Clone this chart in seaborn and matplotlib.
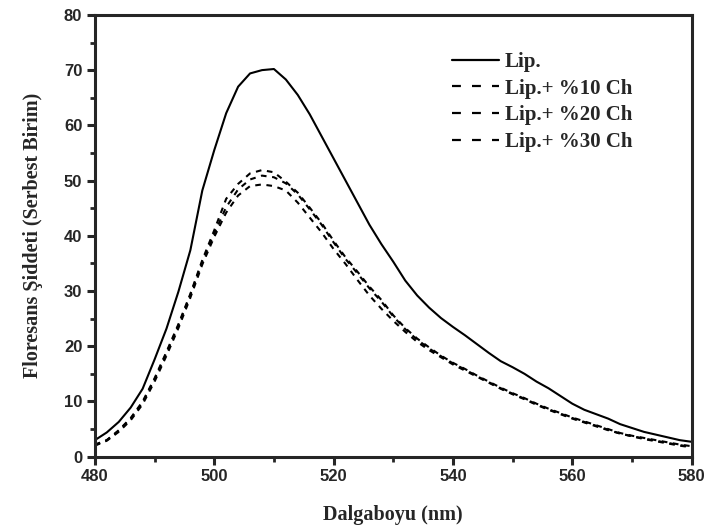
import numpy as np
import pandas as pd
import matplotlib
matplotlib.use("Agg")
import matplotlib.pyplot as plt
from matplotlib.ticker import MultipleLocator
import seaborn as sns

# wavelength grid (nm)
wavelength = list(range(480, 582, 2))

lip = [3.0, 4.4, 6.3, 8.9, 12.3, 17.6, 23.2, 29.9, 37.4, 48.2,
       55.5, 62.2, 67.0, 69.4, 70.0, 70.2, 68.3, 65.5, 62.0, 58.0,
       54.0, 50.0, 46.0, 42.0, 38.5, 35.3, 31.9, 29.2, 27.0, 25.1,
       23.5, 22.0, 20.4, 18.8, 17.3, 16.2, 15.0, 13.6, 12.4, 11.0,
       9.6, 8.5, 7.7, 6.9, 5.9, 5.2, 4.5, 4.0, 3.5, 3.0, 2.7]
lip_ch10 = [2.2, 3.0, 4.8, 7.0, 10.0, 14.2, 19.0, 24.0, 29.5, 35.6,
            41.0, 46.7, 49.4, 51.3, 51.9, 51.5, 49.8, 47.8, 45.1, 42.3,
            39.1, 36.1, 33.5, 30.8, 28.4, 25.6, 23.3, 21.4, 19.8, 18.3,
            17.0, 15.9, 14.7, 13.6, 12.5, 11.5, 10.6, 9.6, 8.7, 7.9,
            7.1, 6.4, 5.7, 5.0, 4.3, 3.8, 3.4, 3.0, 2.6, 2.2, 1.9]
lip_ch20 = [2.1, 3.0, 4.7, 6.9, 9.8, 14.0, 18.8, 23.8, 29.3, 35.3,
            40.4, 45.2, 48.4, 50.2, 50.9, 50.6, 49.5, 47.5, 44.8, 42.0,
            38.8, 35.8, 33.2, 30.5, 28.1, 25.4, 23.1, 21.2, 19.6, 18.2,
            16.9, 15.8, 14.6, 13.5, 12.4, 11.4, 10.5, 9.5, 8.6, 7.8,
            7.0, 6.3, 5.6, 4.9, 4.2, 3.7, 3.3, 2.9, 2.5, 2.1, 1.8]
lip_ch30 = [2.0, 2.9, 4.5, 6.6, 9.5, 13.6, 18.3, 23.3, 28.8, 34.8,
            39.8, 44.2, 47.3, 49.0, 49.3, 49.0, 48.2, 46.0, 43.3, 40.6,
            37.6, 34.9, 32.0, 29.2, 26.8, 24.6, 22.6, 20.8, 19.3, 18.0,
            16.7, 15.6, 14.5, 13.4, 12.3, 11.3, 10.4, 9.4, 8.5, 7.7,
            6.9, 6.2, 5.5, 4.8, 4.2, 3.7, 3.2, 2.8, 2.4, 2.0, 1.7]

series_names = ["Lip.", "Lip.+ %10 Ch", "Lip.+ %20 Ch", "Lip.+ %30 Ch"]
series_values = [lip, lip_ch10, lip_ch20, lip_ch30]

df = pd.concat([pd.DataFrame({"wl": wavelength, "val": v, "sample": n})
                for n, v in zip(series_names, series_values)])

sns.set_style("ticks")
plt.rcParams["font.family"] = ["Liberation Sans", "DejaVu Sans"]

W, H, DPI = 708, 532, 100
fig = plt.figure(figsize=(W / DPI, H / DPI), dpi=DPI)
ax = fig.add_axes([0.134, 0.1415, 0.843, 0.8305])

dash_map = {series_names[0]: "", series_names[1]: (2.7, 2.7),
            series_names[2]: (2.7, 2.7), series_names[3]: (2.7, 2.7)}
sns.lineplot(data=df, x="wl", y="val", hue="sample", style="sample",
             palette=["black"] * 4, dashes=dash_map, linewidth=1.5, ax=ax)

ax.set_xlim(480, 580)
ax.set_ylim(0, 80)
ax.xaxis.set_major_locator(MultipleLocator(20))
ax.xaxis.set_minor_locator(MultipleLocator(10))
ax.yaxis.set_major_locator(MultipleLocator(10))
ax.yaxis.set_minor_locator(MultipleLocator(5))
ax.tick_params(which="major", direction="out", length=6, width=2.2,
               labelsize=12, pad=3)
ax.tick_params(which="minor", direction="out", length=3.5, width=2.0)
for lab in ax.get_xticklabels() + ax.get_yticklabels():
    lab.set_fontweight("bold")
for sp in ax.spines.values():
    sp.set_linewidth(2.2)
    sp.set_visible(True)

ax.set_xlabel("Dalgaboyu (nm)", family="Liberation Serif", fontweight="bold",
              fontsize=14.5, labelpad=15)
ax.set_ylabel("Floresans Şiddeti (Serbest Birim)", family="Liberation Serif",
              fontweight="bold", fontsize=14.5, labelpad=15)

# legend: rows at ~62/90/116/142 px from top, text starting at x~505 px
leg_font = {"family": "Liberation Serif", "weight": "bold", "size": 15}
fs_px = 15 * DPI / 72


def make_legend(anchor, spacing):
    lg = ax.legend(loc="upper left", bbox_to_anchor=anchor, frameon=False,
                   prop=leg_font, handlelength=2.26, handletextpad=0.3,
                   labelspacing=spacing)
    for ln in lg.get_lines():
        ln.set_linewidth(1.6)
    for ln in lg.get_lines()[1:]:
        ln.set_dashes([4, 5])
    return lg


anchor = (0.585, 0.935)
spacing = 0.15
leg = make_legend(anchor, spacing)
fig.canvas.draw()
bbs = [t.get_window_extent() for t in leg.get_texts()]
row_gap = (bbs[0].y0 - bbs[-1].y0) / 3
spacing += (26.6 - row_gap) / fs_px
leg = make_legend(anchor, spacing)
fig.canvas.draw()
bb = leg.get_texts()[0].get_window_extent()
ax_w = 0.843 * W
ax_h = 0.8305 * H
dx = 505 - bb.x0
dy = (H - 62) - (bb.y0 + bb.y1) / 2
anchor = (anchor[0] + dx / ax_w, anchor[1] + dy / ax_h)
leg = make_legend(anchor, spacing)

fig.savefig("out.png", dpi=DPI)
